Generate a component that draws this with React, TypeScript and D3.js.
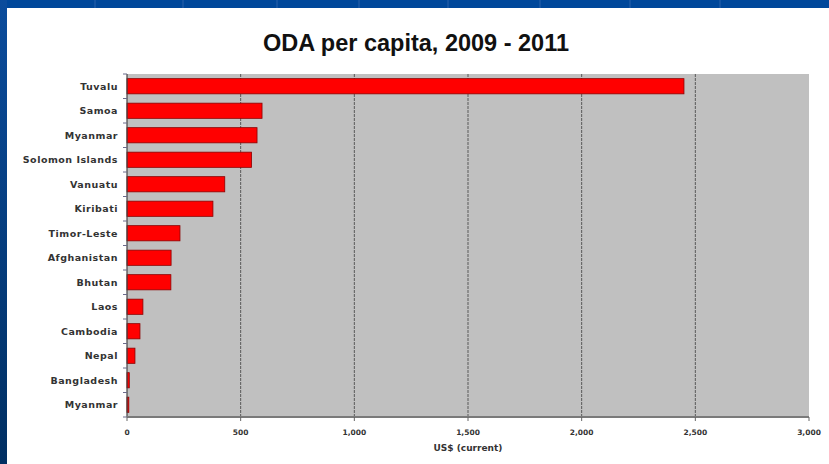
import React from "react";
import * as d3 from "d3";

const categories = [
  "Tuvalu", "Samoa", "Myanmar", "Solomon Islands", "Vanuatu", "Kiribati",
  "Timor-Leste", "Afghanistan", "Bhutan", "Laos", "Cambodia", "Nepal",
  "Bangladesh", "Myanmar ",
];
const values = [2450, 594, 572, 548, 430, 378, 233, 194, 193, 70, 57, 35, 10, 8];
const xTicks = [0, 500, 1000, 1500, 2000, 2500, 3000];
const titleText = "ODA per capita, 2009 - 2011";
const xAxisTitle = "US$ (current)";
const slideLines = [95, 183, 277, 359, 448, 540, 630, 720];

export default function App() {
  const W = 829, H = 464;
  const left = 127, right = 809, top = 74, bottom = 417;
  const x = d3.scaleLinear().domain([0, 3000]).range([left, right]);
  const y = d3.scaleBand<string>().domain(categories).range([top, bottom])
    .paddingInner(0.38).paddingOuter(0.19);
  const fmt = d3.format(",");
  const step = y.step();
  const boundaries = d3.range(categories.length + 1).map((i) => top + i * step);

  return (
    <svg width={W} height={H} style={{ position: "fixed", left: 0, top: 0, display: "block" }}>
      <defs>
        <linearGradient id="leftStrip" x1="0" y1="0" x2="0" y2="1">
          <stop offset="0" stopColor="#0b4c9c" />
          <stop offset="1" stopColor="#002f62" />
        </linearGradient>
      </defs>
      <rect x={0} y={0} width={W} height={H} fill="#00479a" />
      <rect x={0} y={0} width={7} height={H} fill="url(#leftStrip)" />
      {slideLines.map((lx) => (
        <line key={lx} x1={lx} x2={lx} y1={0} y2={8} stroke="#2a62ab" strokeWidth={1} />
      ))}
      <rect x={7} y={8} width={W - 7} height={H - 8} fill="#ffffff" />

      <text x={416} y={51} textAnchor="middle" fontFamily="'Liberation Sans', Arial, sans-serif"
        fontWeight="bold" fontSize={23.5} fill="#111">{titleText}</text>

      <rect x={left} y={top} width={right - left} height={bottom - top} fill="#c0c0c0" />
      {xTicks.slice(1, -1).map((t) => (
        <line key={t} x1={x(t)} x2={x(t)} y1={top} y2={bottom} stroke="#5a5a5a"
          strokeWidth={1} strokeDasharray="3,1" />
      ))}

      {categories.map((c, i) => (
        <rect key={c} x={x(0)} y={y(c)} width={x(values[i]) - x(0)} height={y.bandwidth()}
          fill="#ff0000" stroke="#8b0000" strokeWidth={0.8} />
      ))}

      <line x1={left} x2={left} y1={top} y2={bottom} stroke="#444" strokeWidth={1.2} />
      <line x1={left} x2={right} y1={bottom} y2={bottom} stroke="#7a7a7a" strokeWidth={2} />
      {boundaries.map((b, i) => (
        <line key={i} x1={left - 4} x2={left} y1={b} y2={b} stroke="#6a6a8a" strokeWidth={1} />
      ))}
      {xTicks.map((t) => (
        <line key={t} x1={x(t)} x2={x(t)} y1={bottom} y2={bottom + 4} stroke="#666" strokeWidth={1} />
      ))}

      {categories.map((c) => (
        <text key={c} x={118} y={(y(c) as number) + y.bandwidth() / 2} dy="0.35em" textAnchor="end"
          fontFamily="'DejaVu Sans', Verdana, sans-serif" fontWeight="bold" fontSize={9.5}
          letterSpacing={0.5} fill="#333">{c.trim()}</text>
      ))}
      {xTicks.map((t) => (
        <text key={t} x={x(t)} y={435} textAnchor="middle"
          fontFamily="'DejaVu Sans', Verdana, sans-serif" fontWeight="bold" fontSize={7.5}
          fill="#333">{fmt(t)}</text>
      ))}
      <text x={468} y={451} textAnchor="middle" fontFamily="'DejaVu Sans', Verdana, sans-serif"
        fontWeight="bold" fontSize={9} fill="#333">{xAxisTitle}</text>
    </svg>
  );
}
